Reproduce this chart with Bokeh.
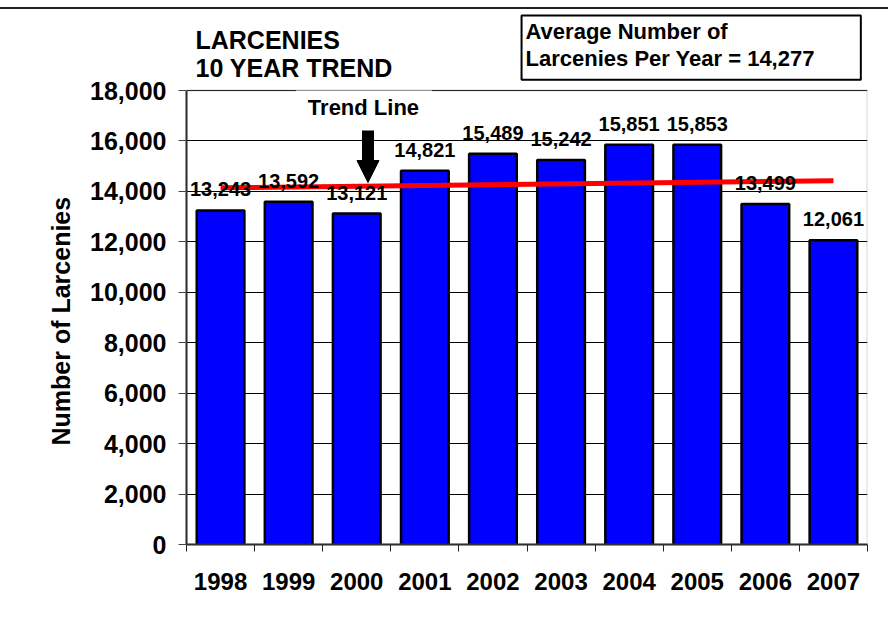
from bokeh.plotting import figure
from bokeh.models import (Range1d, FixedTicker, NumeralTickFormatter, Label, Arrow,
                          NormalHead, ColumnDataSource, BoxAnnotation, Title)
from bokeh.core.properties import value
from bokeh.embed import file_html
from bokeh.resources import INLINE

# ---- data ----
years = ["1998", "1999", "2000", "2001", "2002", "2003", "2004", "2005", "2006", "2007"]
larcenies = [13243, 13592, 13121, 14821, 15489, 15242, 15851, 15853, 13499, 12061]
trend_values = [14140, 14420]          # trend line at first and last year
average_value = 14277
y_ticks = [0, 2000, 4000, 6000, 8000, 10000, 12000, 14000, 16000, 18000]
y_max = 18000

FONT = "Liberation Sans"

positions = [i + 0.5 for i in range(len(years))]
labels = ["{:,}".format(v) for v in larcenies]

# the frame extends above the value axis so that the title and the
# average box (inside the chart area) can be drawn as annotations
p = figure(width=888, height=617, output_backend="svg", toolbar_location=None,
           x_range=Range1d(0, len(years)), y_range=Range1d(0, 21211.5),
           min_border_left=186, min_border_right=21, min_border_top=0,
           min_border_bottom=82)
p.background_fill_color = "white"
p.border_fill_color = "white"
p.outline_line_color = None
p.styles = {"margin-top": "7px", "border-top": "2px solid #222222"}

# grid
p.xgrid.visible = False
p.ygrid.grid_line_color = "black"
p.ygrid.grid_line_width = 1
p.ygrid.ticker = FixedTicker(ticks=y_ticks)

# x axis: labels at centres, ticks at the boundaries
xa = p.xaxis[0]
xa.ticker = FixedTicker(ticks=positions, minor_ticks=list(range(len(years) + 1)))
xa.major_label_overrides = {pos: y for pos, y in zip(positions, years)}
xa.major_tick_out = 0
xa.major_tick_in = 0
xa.minor_tick_out = 7
xa.minor_tick_in = 0
xa.minor_tick_line_color = "#222222"
xa.minor_tick_line_width = 1
xa.axis_line_color = "#222222"
xa.axis_line_width = 2
xa.major_label_text_font = FONT
xa.major_label_text_font_style = "bold"
xa.major_label_text_font_size = "24px"
xa.major_label_text_color = "black"
xa.major_label_standoff = 21

# y axis
ya = p.yaxis[0]
ya.ticker = FixedTicker(ticks=y_ticks)
ya.bounds = (0, y_max)
ya.formatter = NumeralTickFormatter(format="0,0")
ya.major_tick_out = 8
ya.major_tick_in = 0
ya.minor_tick_out = 0
ya.minor_tick_in = 0
ya.major_tick_line_color = "#444444"
ya.axis_line_color = "#222222"
ya.axis_line_width = 2
ya.major_label_text_font = FONT
ya.major_label_text_font_style = "bold"
ya.major_label_text_font_size = "25px"
ya.major_label_text_color = "black"
ya.major_label_standoff = 12

# y-axis title, placed along the value axis (not centred on the taller frame)
p.add_layout(Title(text="Number of Larcenies", align="left", offset=99,
                   standoff=25, text_font=FONT, text_font_style="bold",
                   text_font_size="25px", text_color="black"), "left")

# plot-area border (grey top and right)
p.add_layout(BoxAnnotation(left=0, right=len(years), bottom=0, top=y_max,
                           fill_alpha=0, line_color="#808080", line_width=2))

src = ColumnDataSource(dict(x=positions, top=larcenies, label=labels))

p.vbar(x="x", top="top", width=0.7, source=src, fill_color="#0000FF",
       line_color="black", line_width=2.5)

# trend line
p.line(x=[positions[0], positions[-1]], y=trend_values, line_color="#FF0000",
       line_width=5)

# value labels
p.text(x="x", y="top", text="label", source=src, text_align="center",
       text_baseline="alphabetic", y_offset=-21, text_font=value(FONT),
       text_font_style="bold", text_font_size="20px", text_color="black")

# "Trend Line" annotation and arrow
p.add_layout(Label(x=2.606, y=17366, text="Trend Line", text_align="center",
                   text_baseline="alphabetic", text_font=FONT,
                   text_font_style="bold", text_font_size="22px",
                   text_color="black", background_fill_color="white",
                   padding=dict(left=12, right=13, top=5, bottom=2)))
p.add_layout(Arrow(x_start=2.665, y_start=16414, x_end=2.665, y_end=15106,
                   start=None, end=None, line_color="black", line_width=12))
p.add_layout(Arrow(x_start=2.665, y_start=15300, x_end=2.665, y_end=14352,
                   start=None, end=NormalHead(size=22, fill_color="black",
                                               line_color="black", line_width=1),
                   line_alpha=0, line_width=1))

# title (two lines)
p.add_layout(Label(x=0.132, y=20022, text="LARCENIES", text_align="left",
                   text_baseline="alphabetic", text_font=FONT,
                   text_font_style="bold", text_font_size="25px",
                   text_color="black"))
p.add_layout(Label(x=0.132, y=18873, text="10 YEAR TREND", text_align="left",
                   text_baseline="alphabetic", text_font=FONT,
                   text_font_style="bold", text_font_size="25px",
                   text_color="black"))

# average box
p.add_layout(Label(x=4.92, y=20974,
                   text="Average Number of\nLarcenies Per Year = {:,}".format(average_value),
                   text_align="left", text_baseline="top", text_font=FONT,
                   text_font_style="bold", text_font_size="22px",
                   text_line_height=1.05,
                   text_color="black", background_fill_color="white",
                   border_line_color="black", border_line_width=2,
                   padding=dict(left=4, right=46, top=4, bottom=9)))

open("out.html", "w").write(file_html(p, INLINE))
